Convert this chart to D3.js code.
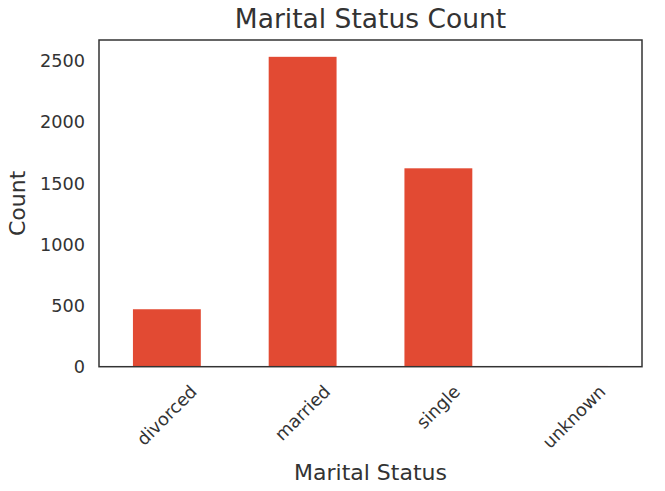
<!DOCTYPE html>
<html>
<head>
<meta charset="utf-8">
<script src="https://cdn.jsdelivr.net/npm/d3@7"></script>
<style>
  html, body { margin: 0; padding: 0; background: #fff; }
  svg { display: block; font-family: "DejaVu Sans", sans-serif; }
</style>
</head>
<body>
<svg id="chart" width="665" height="491"></svg>
<script>
const categories = ["divorced", "married", "single", "unknown"];
const counts = [470, 2535, 1623, 6];
const yTicks = [0, 500, 1000, 1500, 2000, 2500];
const titleText = "Marital Status Count";
const xLabelText = "Marital Status";
const yLabelText = "Count";

const W = 665, H = 491;
const m = { left: 99, right: 642, top: 40, bottom: 366.7 };
const textColor = "#333333";
const barColor = "#E24A33";

const svg = d3.select("#chart");

const x = d3.scaleBand().domain(categories).range([m.left, m.right]).paddingInner(0.5).paddingOuter(0.25);
const y = d3.scaleLinear().domain([0, 2536 / 310 * (m.bottom - m.top)]).range([m.bottom, m.top]);

// bars
svg.append("g").selectAll("rect").data(categories).join("rect")
  .attr("x", d => x(d))
  .attr("width", x.bandwidth())
  .attr("y", (d, i) => y(counts[i]))
  .attr("height", (d, i) => y(0) - y(counts[i]))
  .attr("fill", barColor);

// y axis tick labels (no tick marks)
const yAxis = d3.axisLeft(y).tickValues(yTicks).tickSize(0).tickPadding(14).tickFormat(d3.format("d"));
const gy = svg.append("g").attr("transform", `translate(${m.left},0)`).call(yAxis);
gy.select(".domain").remove();
gy.selectAll("text").attr("font-size", 17.7).attr("fill", textColor).attr("font-family", "DejaVu Sans");

// x axis labels rotated
const xAxis = d3.axisBottom(x).tickSize(0).tickPadding(0);
const gx = svg.append("g").attr("transform", `translate(0,${m.bottom})`).call(xAxis);
gx.select(".domain").remove();
gx.selectAll("text")
  .attr("font-size", 17.7).attr("fill", textColor).attr("font-family", "DejaVu Sans")
  .attr("text-anchor", "middle").attr("dy", null).attr("y", null)
  .attr("dominant-baseline", "central")
  .each(function() {
    const L = this.getComputedTextLength();
    const h = 17.7 * 1.0;
    const cy = 15.5 + (L + h) * Math.SQRT1_2 / 2;
    d3.select(this).attr("transform", `translate(0,${cy}) rotate(-45)`);
  });

// frame
svg.append("rect")
  .attr("x", m.left).attr("y", m.top)
  .attr("width", m.right - m.left).attr("height", m.bottom - m.top)
  .attr("fill", "none").attr("stroke", "#333").attr("stroke-width", 1.5);

// title
svg.append("text").attr("x", (m.left + m.right) / 2).attr("y", 28)
  .attr("text-anchor", "middle").attr("font-size", 26.5).attr("fill", textColor)
  .text(titleText);

// x label
svg.append("text").attr("x", (m.left + m.right) / 2).attr("y", 480)
  .attr("text-anchor", "middle").attr("font-size", 22).attr("fill", textColor)
  .text(xLabelText);

// y label
svg.append("text").attr("transform", `translate(25,${(m.top + m.bottom) / 2}) rotate(-90)`)
  .attr("text-anchor", "middle").attr("font-size", 22).attr("fill", textColor)
  .text(yLabelText);
</script>
</body>
</html>
